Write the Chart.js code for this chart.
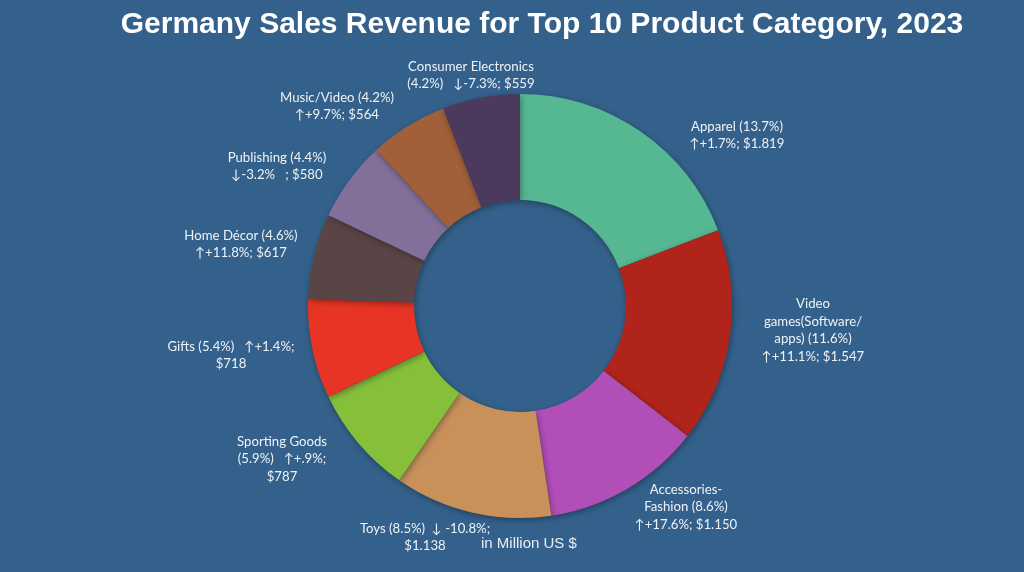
<!DOCTYPE html>
<html>
<head>
<meta charset="utf-8">
<script src="https://cdn.jsdelivr.net/npm/chart.js@4.4.1/dist/chart.umd.min.js"></script>
<style>
html, body { margin:0; padding:0; background:#34618b; }
#wrap { width:1024px; height:572px; position:relative; }
</style>
</head>
<body>
<div id="wrap"><canvas id="salesChart" width="1024" height="572"></canvas></div>
<script>
// data
const categories = [
'Apparel',
'Video\ngames(Software/\napps)',
'Accessories-\nFashion',
'Toys',
'Sporting Goods',
'Gifts',
'Home Décor',
'Publishing',
'Music/Video',
'Consumer Electronics'
];

const revenue = [1819, 1547, 1150, 1138, 787, 718, 617, 580, 564, 559];

const sharePct = [13.7, 11.6, 8.6, 8.5, 5.9, 5.4, 4.6, 4.4, 4.2, 4.2];

const changePct = [1.7, 11.1, 17.6, -10.8, 0.9, 1.4, 11.8, -3.2, 9.7, -7.3];

const sliceColors = [
'#55b892', '#b0241b', '#b24eb8', '#c8915a', '#86c03b',
'#e83424', '#5a4546', '#82709a', '#a15f3a', '#4b3a5e'
];

// how each label is broken into lines (Excel wrapping)
const labelTemplates = [
'{n} {s}\n{a}{d}; {v}',
'{n} {s}\n{a}{d}; {v}',
'{n} {s}\n{a}{d}; {v}',
'{n} {s}  {a} {d};\n{v}',
'{n}\n{s}   {a}{d};\n{v}',
'{n} {s}   {a}{d};\n{v}',
'{n} {s}\n{a}{d}; {v}',
'{n} {s}\n{a}{d}   ; {v}',
'{n} {s}\n{a}{d}; {v}',
'{n}\n{s}   {a}{d}; {v}'
];

// label block centre, relative to the doughnut centre
const labelOffsets = [
[217, -171], [293, 24], [166, 201], [-95, 231], [-238, 153],
[-289, 49], [-279, -62], [-243, -140], [-183, -200], [-49, -231]
];

function fmtMoney(v){
if(v >= 1000){
return '$' + Math.floor(v/1000) + '.' + String(v % 1000).padStart(3,'0');
}
return '$' + v;
}

function labelText(i){
const c = changePct[i];
const parts = {
n: categories[i],
s: '(' + sharePct[i].toFixed(1) + '%)',
a: c >= 0 ? '\u2191' : '\u2193',
d: (c >= 0 ? '+' : '-') + Math.abs(c).toFixed(1).replace(/^0/, '') + '%',
v: fmtMoney(revenue[i])
};
return labelTemplates[i]
.replace(/\{(\w)\}/g, (m, k) => parts[k])
.split('\n');
}

const ringShadow = {
id:'ringShadow',
beforeDatasetDraw(chart){
const ctx = chart.ctx;
ctx.save();
ctx.shadowColor = 'rgba(0,0,0,0.35)';
ctx.shadowBlur = 6;
ctx.shadowOffsetX = 1;
ctx.shadowOffsetY = 2;
},
afterDatasetDraw(chart){
chart.ctx.restore();
}
};

const textLayer = {
id:'textLayer',
afterDraw(chart){
const ctx = chart.ctx;
ctx.save();

ctx.fillStyle = '#ffffff';
ctx.font = 'bold 30px "Liberation Sans", Arial, sans-serif';
ctx.textAlign = 'center';
ctx.textBaseline = 'middle';
ctx.fillText('Germany Sales Revenue for Top 10 Product Category, 2023', 542, 25);

const meta = chart.getDatasetMeta(0);
ctx.font = '13.2px Lato, "DejaVu Sans", sans-serif';
ctx.fillStyle = '#eef2f6';
const lh = 17.5;
meta.data.forEach((arc, i) => {
const lines = labelText(i);
const cx = arc.x + labelOffsets[i][0];
const cy = arc.y + labelOffsets[i][1];
const top = cy - (lines.length - 1) * lh / 2;
lines.forEach((ln, k) => {
ctx.fillText(ln, cx, top + k * lh);
});
});

ctx.font = '15px "Liberation Sans", Arial, sans-serif';
ctx.fillStyle = '#e8eef5';
ctx.textAlign = 'left';
ctx.fillText('in Million US $', 481, 544);
ctx.restore();
}
};

const ctx = document.getElementById('salesChart').getContext('2d');

new Chart(ctx,{
type:'doughnut',
data:{
labels:categories,
datasets:[{
data:revenue,
backgroundColor:sliceColors,
borderWidth:0,
hoverOffset:0
}]
},
options:{
responsive:false,
animation:false,
cutout:'50%',
layout:{
padding:{ top:94, bottom:54, left:200, right:184 }
},
plugins:{
legend:{ display:false },
title:{ display:false },
tooltip:{ enabled:false }
}
},
plugins:[ringShadow, textLayer]
});
</script>
</body>
</html>
